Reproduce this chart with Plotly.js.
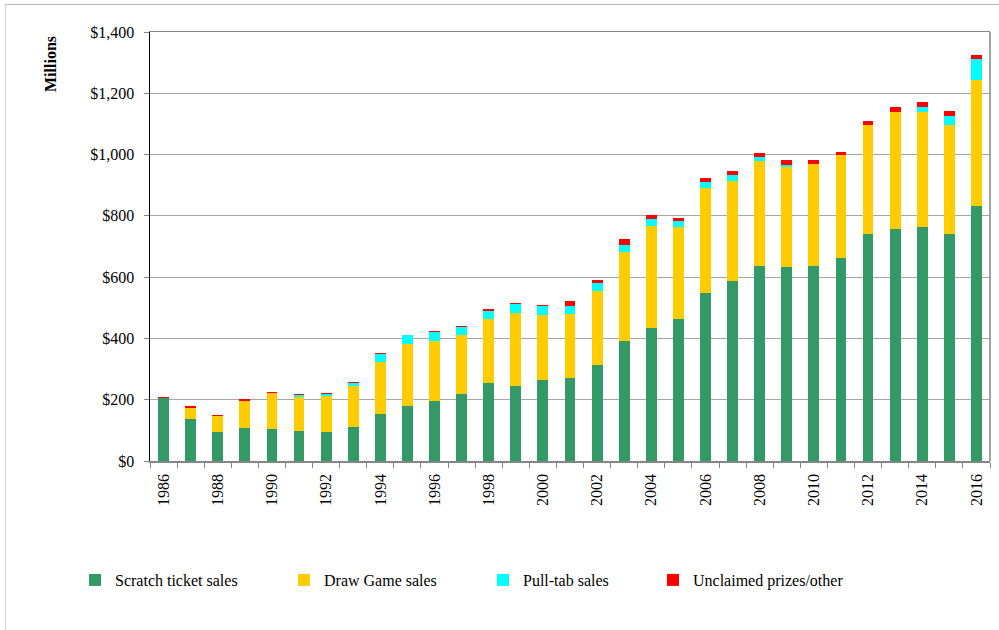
<!DOCTYPE html>
<html>
<head>
<meta charset="utf-8">
<script src="https://cdn.plot.ly/plotly-3.0.1.min.js"></script>
<style>
  html, body { margin: 0; padding: 0; background: #fff; }
  #wrap { position: relative; width: 999px; height: 630px; }
  #chart { position: absolute; left: 0; top: 0; width: 999px; height: 630px; }
  #frame { position: absolute; left: 5px; top: 4px; width: 1000px; height: 700px;
           border-left: 1.5px solid #d0d0d0; border-top: 1.5px solid #b8b8b8; pointer-events: none; }
</style>
</head>
<body>
<div id="wrap">
  <div id="chart"></div>
  <div id="frame"></div>
</div>
<script>
// ---- Data (millions of dollars) ----
const years = [1986,1987,1988,1989,1990,1991,1992,1993,1994,1995,1996,1997,1998,1999,2000,
               2001,2002,2003,2004,2005,2006,2007,2008,2009,2010,2011,2012,2013,2014,2015,2016];
const scratchSales = [204,138,94,108,104,98,95,112,153,181,197,220,256,246,265,
                      271,313,392,433,465,549,587,638,634,636,664,740,758,764,742,833];
const drawGameSales = [0,34,53,89,117,110,117,133,171,202,194,190,207,237,211,
                       209,242,289,335,298,343,327,341,326,334,335,356,381,375,354,409];
const pullTabSales = [0,0,0,0,0,6,7,10,25,27,30,27,28,28,29,
                      27,27,24,22,20,20,19,14,6,0,0,0,0,16,30,70];
const unclaimedOther = [4,7,4,4,5,4,2,4,3,2,3,3,4,4,3,
                        16,9,19,13,10,13,13,12,15,12,9,12,15,15,17,13];
const seriesNames = ["Scratch ticket sales","Draw Game sales","Pull-tab sales","Unclaimed prizes/other"];
const xTickYears = [1986,1988,1990,1992,1994,1996,1998,2000,2002,2004,2006,2008,2010,2012,2014,2016];
const yTickVals = [0,200,400,600,800,1000,1200,1400];

const colors = ["#339966","#FFCC00","#00FFFF","#FF0000"];
const values = [scratchSales, drawGameSales, pullTabSales, unclaimedOther];
const legendIds = ["legend","legend2","legend3","legend4"];

const traces = values.map((v, i) => ({
  type: "bar",
  name: seriesNames[i],
  x: years,
  y: v,
  marker: { color: colors[i], line: { width: 0 } },
  legend: legendIds[i],
  hoverinfo: "x+y+name"
}));

const font = { family: "Liberation Serif, Times New Roman, serif", size: 16, color: "#000" };
// plot area: x 150..990 (840px), y 32..461 (429px)
const pxX = px => (px - 150) / 840;
const legY = (461 - 580) / 429;
const legTextStarts = [115, 324, 523, 693];

const layout = {
  width: 999, height: 630,
  margin: { l: 150, r: 9, t: 32, b: 169 },
  paper_bgcolor: "#fff", plot_bgcolor: "#fff",
  font: font,
  barmode: "stack",
  bargap: 0.6,
  showlegend: true,
  xaxis: {
    type: "linear",
    range: [1985.5, 2016.5],
    tickmode: "array",
    tickvals: xTickYears,
    ticktext: xTickYears.map(String),
    tickangle: -90,
    ticks: "outside", ticklen: 5, tickcolor: "rgba(0,0,0,0)",
    tickfont: font,
    showgrid: false, zeroline: false,
    showline: true, linecolor: "#868686", linewidth: 1.5, mirror: true,
    minor: { tick0: 1985.5, dtick: 1, ticks: "outside", ticklen: 5, tickcolor: "#868686", tickwidth: 1, showgrid: false },
    fixedrange: true
  },
  yaxis: {
    range: [0, 1400],
    tickmode: "array",
    tickvals: yTickVals,
    ticktext: yTickVals.map(v => "$" + v.toLocaleString("en-US")),
    ticks: "outside", ticklen: 5, tickcolor: "#868686",
    ticklabelstandoff: 6,
    tickfont: font,
    showgrid: true, gridcolor: "#a6a6a6", gridwidth: 1,
    zeroline: false,
    showline: true, linecolor: "#000", linewidth: 1.5,
    fixedrange: true
  },
  shapes: [
    { type: "line", xref: "paper", yref: "paper", x0: 1, x1: 1, y0: 0, y1: 1,
      line: { color: "#868686", width: 1.5 } }
  ],
  annotations: [
    { text: "<b>Millions</b>", xref: "paper", yref: "paper",
      x: pxX(50), y: 1 - (64 - 32) / 429, xanchor: "center", yanchor: "middle",
      textangle: -90, showarrow: false, font: { family: font.family, size: 16, color: "#000" } }
  ]
};

legendIds.forEach((id, i) => {
  layout[id] = {
    orientation: "h",
    x: pxX(legTextStarts[i] - 40), xanchor: "left",
    y: legY, yanchor: "middle",
    bgcolor: "rgba(0,0,0,0)", borderwidth: 0,
    font: font
  };
});

Plotly.newPlot("chart", traces, layout, { displayModeBar: false, staticPlot: true });
</script>
</body>
</html>
